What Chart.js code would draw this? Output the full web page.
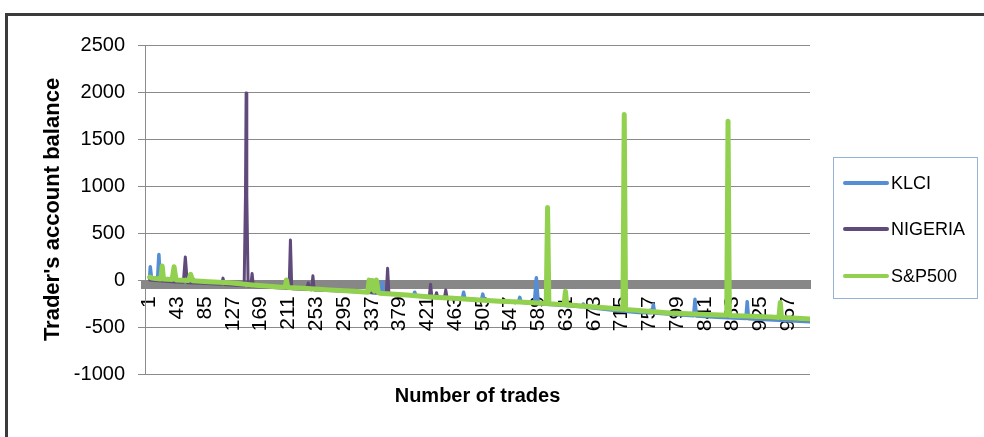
<!DOCTYPE html>
<html>
<head>
<meta charset="utf-8">
<title>Trader's account balance</title>
<script src="https://cdn.jsdelivr.net/npm/chart.js@4.4.0/dist/chart.umd.min.js"></script>
<style>
  html, body { margin: 0; padding: 0; background: #fff; }
  #wrap { position: relative; width: 984px; height: 437px; }
</style>
</head>
<body>
<div id="wrap"><canvas id="c" width="984" height="437"></canvas></div>
<script>
// Category tick labels on the trade axis
const tradeTicks = [1, 43, 85, 127, 169, 211, 253, 295, 337, 379, 421, 463, 505, 547, 589, 631, 673, 715, 757, 799, 841, 883, 925, 967];

const seriesNames = ['KLCI', 'NIGERIA', 'S&P500'];
const seriesColors = ['#558ED5', '#604A7B', '#92D050'];

// KLCI: trade number and account balance
const klciTrades  = [1, 2, 4, 13, 15, 17, 30, 60, 65, 70, 100, 140, 180, 220, 260, 300, 340, 351, 353, 355, 390, 400, 402, 404, 430, 474, 476, 478, 503, 505, 507, 530, 559, 561, 563, 583, 586, 589, 620, 655, 657, 659, 700, 740, 761, 763, 765, 800, 824, 826, 828, 860, 903, 905, 907, 930, 960, 1000];
const klciBalance = [20, 140, 10, 5, 270, 0, -5, -15, 25, -20, -30, -50, -70, -85, -100, -115, -135, -140, -20, -145, -160, -165, -130, -168, -180, -200, -130, -202, -212, -150, -215, -225, -235, -185, -238, -248, 25, -252, -265, -285, -255, -288, -320, -345, -348, -260, -350, -370, -380, -205, -382, -395, -410, -230, -412, -420, -430, -445];

// NIGERIA: trade number and account balance
const nigeriaTrades  = [1, 20, 40, 52, 55, 58, 80, 100, 110, 112, 114, 130, 144, 146, 147, 148, 150, 154, 156, 158, 180, 200, 212, 214, 216, 238, 241, 244, 246, 248, 250, 280, 310, 333, 335, 337, 359, 361, 363, 390, 424, 426, 428, 433, 435, 437, 447, 449, 451, 480, 520, 560, 600, 640, 680, 720, 760, 800, 840, 880, 920, 960, 1000];
const nigeriaBalance = [0, -10, -20, -25, 245, -28, -35, -42, -45, 20, -47, -55, -62, 900, 1990, 900, -65, -66, 70, -68, -78, -85, -90, 425, -92, -100, -30, -103, -104, 45, -106, -115, -125, -133, 5, -135, -140, 125, -143, -160, -178, -45, -180, -183, -135, -185, -190, -105, -192, -203, -222, -238, -255, -272, -295, -318, -340, -358, -372, -384, -398, -412, -425];

// S&P500: trade number and account balance
const spTrades  = [1, 5, 10, 18, 20, 22, 35, 38, 41, 60, 63, 66, 90, 122, 160, 197, 206, 208, 210, 240, 273, 310, 331, 333, 335, 338, 341, 344, 347, 349, 390, 425, 460, 500, 530, 561, 601, 603, 605, 628, 630, 632, 660, 690, 717, 719, 721, 750, 788, 825, 864, 874, 876, 878, 900, 940, 953, 955, 957, 980, 1000];
const spBalance = [30, 20, 15, 10, 150, 10, 5, 140, 0, -5, 60, -8, -18, -30, -55, -75, -78, 0, -80, -90, -105, -120, -130, 0, -100, -5, -120, 0, -135, -140, -160, -180, -195, -213, -225, -234, -250, 770, -252, -262, -120, -264, -278, -295, -312, 1760, -314, -330, -350, -362, -372, -375, 1690, -377, -383, -394, -398, -240, -400, -408, -415];

const toPoints = (xs, ys) => xs.map((x, i) => ({ x, y: ys[i] }));

const FONT = '"Liberation Sans", Arial, sans-serif';

// Outer frame and boxed legend
const decorations = {
  id: 'decorations',
  beforeDraw(chart) {
    const ctx = chart.ctx;
    ctx.save();
    ctx.fillStyle = '#fff';
    ctx.fillRect(0, 0, chart.width, chart.height);
    ctx.restore();
  },
  afterDraw(chart) {
    const ctx = chart.ctx;
    ctx.save();
    // frame edges
    ctx.fillStyle = '#3b3b3b';
    ctx.fillRect(5, 13, chart.width - 5, 3);
    ctx.fillRect(5, 13, 3, chart.height - 13);

    // legend box
    ctx.strokeStyle = '#95B3D7';
    ctx.lineWidth = 1;
    ctx.strokeRect(833.5, 157.5, 144, 141);

    const rowY = [183, 229, 276];
    ctx.font = '18px ' + FONT;
    ctx.textBaseline = 'middle';
    ctx.textAlign = 'left';
    chart.data.datasets.forEach((ds, i) => {
      ctx.strokeStyle = ds.borderColor;
      ctx.lineWidth = 4;
      ctx.lineCap = 'round';
      ctx.beginPath();
      ctx.moveTo(845, rowY[i]);
      ctx.lineTo(887, rowY[i]);
      ctx.stroke();
      ctx.fillStyle = '#000';
      ctx.fillText(ds.label, 891, rowY[i] + 1);
    });
    ctx.restore();
  }
};

const widths = [3.5, 3, 5];
const seriesData = [toPoints(klciTrades, klciBalance), toPoints(nigeriaTrades, nigeriaBalance), toPoints(spTrades, spBalance)];

new Chart(document.getElementById('c'), {
  type: 'line',
  data: {
    datasets: seriesNames.map((name, i) => ({
      label: name,
      data: seriesData[i],
      borderColor: seriesColors[i],
      backgroundColor: seriesColors[i],
      borderWidth: widths[i],
      pointRadius: 0,
      tension: 0,
      borderJoinStyle: 'round',
      borderCapStyle: 'round',
      order: 2 - i
    }))
  },
  options: {
    responsive: false,
    animation: false,
    events: [],
    layout: { padding: { top: 45, right: 174, bottom: 0, left: 0 } },
    plugins: {
      legend: { display: false },
      tooltip: { enabled: false },
      title: {
        display: true,
        text: 'Number of trades',
        position: 'bottom',
        fullSize: false,
        color: '#000',
        font: { family: FONT, size: 20, weight: 'bold' },
        padding: { top: 10, bottom: 29 }
      }
    },
    scales: {
      x: {
        type: 'linear',
        position: { y: -45 },
        min: -6,
        max: 1000,
        afterBuildTicks: (scale) => { scale.ticks = tradeTicks.map(v => ({ value: v })); },
        ticks: {
          autoSkip: false,
          minRotation: 90,
          maxRotation: 90,
          padding: 12,
          color: '#000',
          font: { family: FONT, size: 21 },
          callback: (v) => String(v)
        },
        grid: { display: false, drawTicks: false },
        border: { display: true, color: '#878787', width: 9 }
      },
      y: {
        min: -1000,
        max: 2500,
        afterFit: (scale) => { scale.width = 145; },
        ticks: {
          stepSize: 500,
          padding: 13,
          color: '#000',
          font: { family: FONT, size: 20 },
          callback: (v) => String(v)
        },
        grid: { color: '#8a8a8a', lineWidth: 1, tickLength: 7, drawTicks: true },
        border: { display: true, color: '#8a8a8a', width: 1 },
        title: {
          display: true,
          text: "Trader's account balance",
          color: '#000',
          font: { family: FONT, size: 22, weight: 'bold' },
          padding: { top: 40, bottom: 0 }
        }
      }
    }
  },
  plugins: [decorations]
});
</script>
</body>
</html>
